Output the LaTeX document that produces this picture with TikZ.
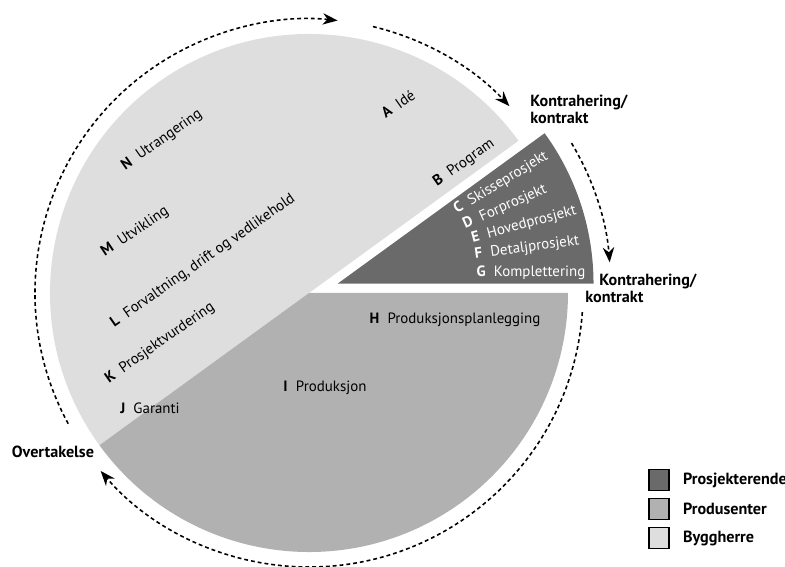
\documentclass[tikz,border=0pt]{standalone}
\usepackage{fontspec}
\setmainfont{PT Sans}
\usetikzlibrary{arrows.meta,positioning}
\definecolor{prosjgray}{RGB}{106,106,106}
\definecolor{prodgray}{RGB}{177,177,177}
\definecolor{bygggray}{RGB}{222,222,222}
\newcommand{\fase}[2]{\textbf{#1}\hspace{0.55em}#2}
\begin{document}
\begin{tikzpicture}[x=0.02cm,y=0.02cm,font=\fontsize{8.5}{10}\selectfont]
            %
            % `flow' is used for the dotted arrows round the circle.
            % `phase' is used for the stage labels inside the pie.
            % `milestone' is used for the bold labels outside the pie.
            % `legendbox' and `legendtext' are used for the key.
            \tikzstyle{flow} = [line width=0.9pt,dash pattern=on 2.2pt off 1.7pt,-{Stealth[length=8.5pt,width=6.5pt]}]
            \tikzstyle{phase} = [inner sep=0pt]
            \tikzstyle{milestone} = [inner sep=0pt,font=\fontsize{9.2}{9.7}\selectfont\bfseries,align=left]
            \tikzstyle{legendbox} = [draw,line width=0.8pt,minimum width=0.4cm,minimum height=0.42cm,inner sep=0pt]
            \tikzstyle{legendtext} = [inner sep=0pt,font=\fontsize{9.2}{9.7}\selectfont\bfseries]
            \useasboundingbox (-309,-274) rectangle (476,293);
            %
            % Pie: byggherre, produsent and the pulled-out prosjekterende part
            \fill[bygggray] (0,0) -- (36:259) arc (36:216:259) -- cycle;
            \fill[prodgray] (0,0) -- (216:259) arc (216:360:259) -- cycle;
            \begin{scope}[shift={(18:30)}]
                \fill[prosjgray] (0,0) -- (0:256) arc (0:36:256) -- cycle;
                \draw[flow] (31:273) arc (31:4.5:273);
            \end{scope}
            %
            % Arrows round the circle
            \draw[flow] (208.5:274) arc (208.5:84:274);
            \draw[flow] (76.5:274) arc (76.5:43:274);
            \draw[flow] (-4:274) arc (-4:-139.5:274);
            %
            % Byggherre stages
            \node[phase,rotate=35] (faseA) at (89,189) {\fase{A}{Idé}};
            \node[phase,rotate=35] (faseB) at (155,130) {\fase{B}{Program}};
            \node[phase,rotate=35] (faseN) at (-147,153) {\fase{N}{Utrangering}};
            \node[phase,rotate=34] (faseM) at (-174,61) {\fase{M}{Utvikling}};
            \node[phase,rotate=35] (faseL) at (-106,32) {\fase{L}{Forvaltning, drift og vedlikehold}};
            \node[phase,rotate=35] (faseK) at (-149,-50) {\fase{K}{Prosjektvurdering}};
            %
            % Prosjekterende stages
            \node[phase,text=white,rotate=31] (faseC) at (192,110) {\fase{C}{Skisseprosjekt}};
            \node[phase,text=white,rotate=24] (faseD) at (196,86) {\fase{D}{Forprosjekt}};
            \node[phase,text=white,rotate=15] (faseE) at (215,68) {\fase{E}{Hovedprosjekt}};
            \node[phase,text=white,rotate=8] (faseF) at (218,45) {\fase{F}{Detaljprosjekt}};
            \node[phase,text=white] (faseG) at (222,20) {\fase{G}{Komplettering}};
            %
            % Produsent stages
            \node[phase] (faseH) at (146,-27) {\fase{H}{Produksjonsplanlegging}};
            \node[phase] (faseI) at (16,-95) {\fase{I}{Produksjon}};
            \node[phase] (faseJ) at (-159,-115) {\fase{J}{Garanti}};
            %
            % Milestones
            \node[milestone,anchor=west] (kontrakt1) at (221,184) {Kontrahering/\\kontrakt};
            \node[milestone,anchor=north west] (kontrakt2) at (276,19) {\hspace*{0.28cm}Kontrahering/\\kontrakt};
            \node[milestone] (overtakelse) at (-256,-159) {Overtakelse};
            %
            % Key
            \node[legendbox,fill=prosjgray] (keyProsj) at (350,-187) {};
            \node[legendbox,fill=prodgray] (keyProd) at (350,-216) {};
            \node[legendbox,fill=bygggray] (keyBygg) at (350,-245) {};
            \node[legendtext,right=0.26cm of keyProsj] (txtProsj) {Prosjekterende};
            \node[legendtext,right=0.26cm of keyProd] (txtProd) {Produsenter};
            \node[legendtext,right=0.26cm of keyBygg] (txtBygg) {Byggherre};
\end{tikzpicture}
\end{document}
